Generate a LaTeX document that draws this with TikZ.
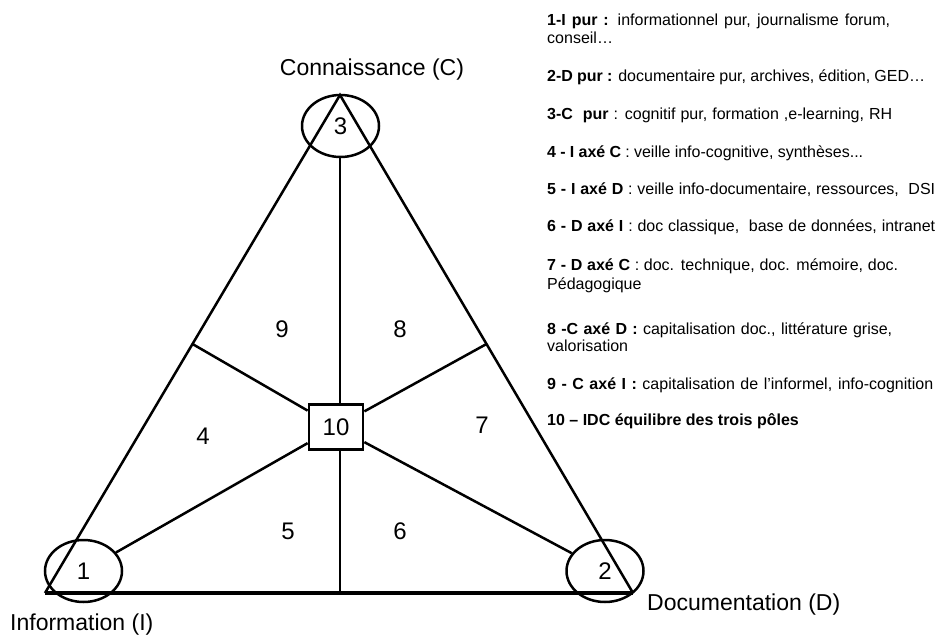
\documentclass[tikz,border=0pt]{standalone}
\usepackage{fontspec}
\setmainfont{Liberation Sans}
\usetikzlibrary{shapes.geometric}
\begin{document}
\begin{tikzpicture}[x=1pt,y=-1pt,
  side/.style={line width=2.5pt, line join=miter},
  base/.style={line width=3.4pt},
  ring/.style={draw, line width=2.5pt, ellipse, minimum width=77pt, minimum height=62pt,
    inner sep=0pt, font=\fontsize{24}{28}\selectfont},
  core/.style={draw, fill=white, line width=2.8pt, minimum width=54pt, minimum height=45pt,
    inner sep=0pt, font=\fontsize{24}{28}\selectfont},
  zone/.style={inner sep=0pt, font=\fontsize{24}{28}\selectfont},
  pole/.style={inner sep=0pt, font=\fontsize{23}{27}\selectfont},
  legend/.style={anchor=base west, inner sep=0pt, font=\fontsize{16}{18}\selectfont},
]
\useasboundingbox (0,0) rectangle (941,636);

% corners of the triangle and midpoints of its sides
\coordinate (C) at (340,95);
\coordinate (I) at (45,593);
\coordinate (D) at (633,593);
\coordinate (mI) at (192.5,344);
\coordinate (mD) at (486.5,344);
\coordinate (mB) at (340,593);

% poles and centre
\node[ring] (r1) at (83.5,571) {1};
\node[ring] (r2) at (605,571) {2};
\node[ring] (r3) at (340.5,126) {3};
\node[core] (sq) at (336,427) {10};

% triangle
\draw[side] (I) -- (C) -- (D);
\draw[base] (I) -- (D);

% partition lines
\draw[side] (r3.south -| C) -- (C |- sq.north);
\draw[side] (mB |- sq.south) -- (mB);
\draw[side] (mI) -- (sq);
\draw[side] (mD) -- (sq);
\draw[side] (sq) -- (r1);
\draw[side] (sq) -- (r2);

% zone numbers
\node[zone] (z9) at (282,329) {9};
\node[zone] (z8) at (400,329) {8};
\node[zone] (z4) at (203,436) {4};
\node[zone] (z7) at (482,425) {7};
\node[zone] (z5) at (288,531) {5};
\node[zone] (z6) at (400,531) {6};

% pole names
\node[pole] (lc) at (372,70) {Connaissance (C)};
\node[pole, anchor=west] (li) at (10,625) {Information (I)};
\node[pole, anchor=west] (ld) at (647,605) {Documentation (D)};

% legend
\node[legend] (k1) at (547,26) {\makebox[343pt][s]{\textbf{1-I pur :} informationnel pur, journalisme forum,}};
\node[legend] (k1b) at (547,44) {conseil…};
\node[legend] (k2) at (547,82) {\makebox[378pt][s]{\textbf{2-D pur :} documentaire pur, archives, édition, GED…}};
\node[legend] (k3) at (547,120) {\makebox[345pt][s]{\textbf{3-C\ \ pur} : cognitif pur, formation ,e-learning, RH}};
\node[legend] (k4) at (547,158) {\makebox[316pt][s]{\textbf{4 - I axé C} : veille info-cognitive, synthèses...}};
\node[legend] (k5) at (547,195) {\makebox[388pt][s]{\textbf{5 - I axé D} : veille info-documentaire, ressources,\ \ DSI}};
\node[legend] (k6) at (547,232) {\makebox[388pt][s]{\textbf{6 - D axé I} : doc classique,\ \ base de données, intranet}};
\node[legend] (k7) at (547,270) {\makebox[351pt][s]{\textbf{7 - D axé C} : doc. technique, doc. mémoire, doc.}};
\node[legend] (k7b) at (547,289) {Pédagogique};
\node[legend] (k8) at (547,334) {\makebox[345pt][s]{\textbf{8 -C axé D :} capitalisation doc., littérature grise,}};
\node[legend] (k8b) at (547,351) {valorisation};
\node[legend] (k9) at (547,389) {\makebox[386pt][s]{\textbf{9 - C axé I :} capitalisation de l’informel, info-cognition}};
\node[legend] (k10) at (547,425) {\textbf{10 – IDC équilibre des trois pôles}};
\end{tikzpicture}
\end{document}
